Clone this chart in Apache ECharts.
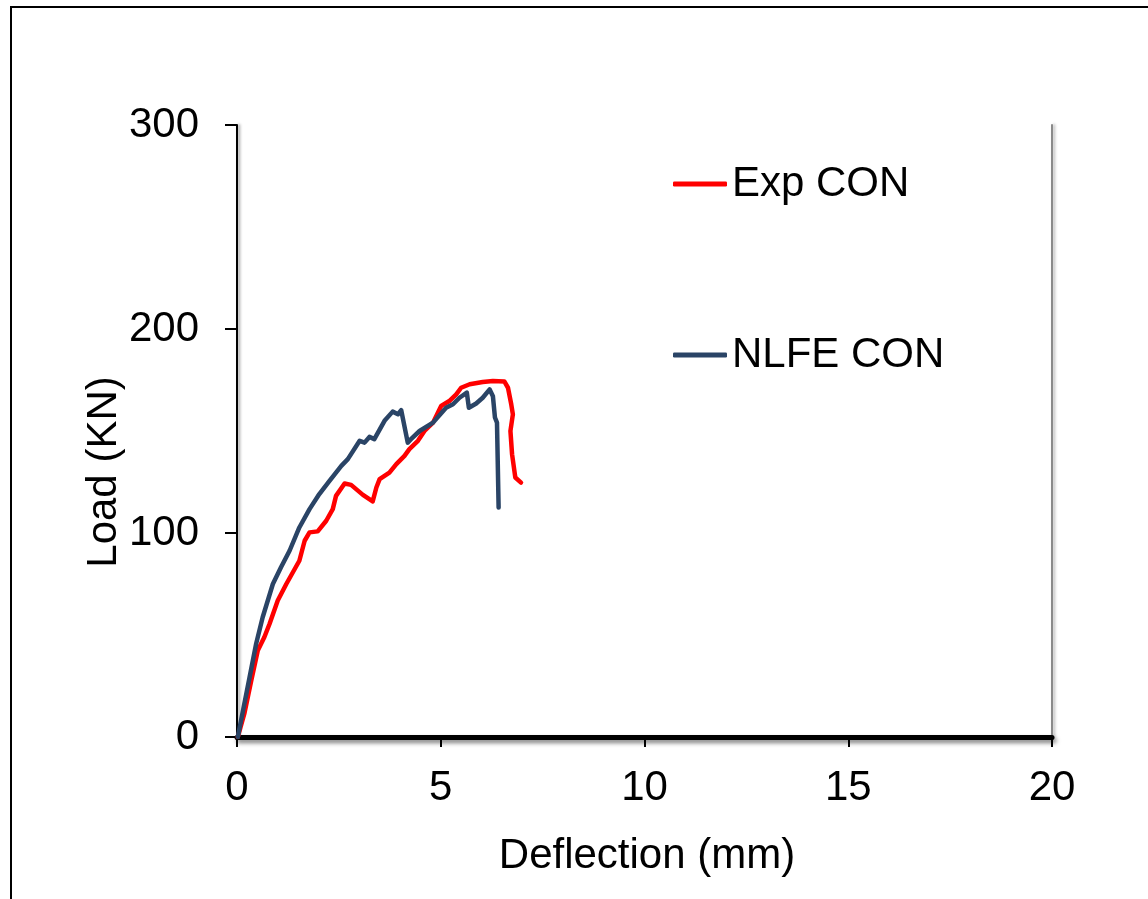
<!DOCTYPE html>
<html>
<head>
<meta charset="utf-8">
<script src="https://cdn.jsdelivr.net/npm/echarts@6/dist/echarts.min.js"></script>
<style>html,body{margin:0;padding:0;background:#fff;}#c{width:1148px;height:899px;}</style>
</head>
<body>
<div id="c"></div>
<script>
const seriesNames = ['Exp CON', 'NLFE CON'];
const xTicks = [0, 5, 10, 15, 20];
const yTicks = [0, 100, 200, 300];
const expX = [0.02, 0.18, 0.35, 0.51, 0.67, 0.80, 1.00, 1.21, 1.53, 1.66, 1.78, 1.98, 2.19, 2.35, 2.43, 2.64, 2.80, 3.09, 3.33, 3.42, 3.50, 3.74, 3.91, 4.11, 4.23, 4.44, 4.60, 4.81, 5.01, 5.21, 5.38, 5.50, 5.71, 6.03, 6.28, 6.56, 6.65, 6.73, 6.77, 6.71, 6.75, 6.83, 6.97];
const expY = [0, 11.4, 27.7, 42.4, 48.9, 55.5, 66.9, 75.0, 86.4, 96.2, 100.3, 100.8, 106.0, 111.7, 118.2, 124.3, 123.6, 118.7, 115.5, 122.3, 126.4, 129.6, 133.8, 137.8, 141.1, 145.2, 150.0, 154.1, 162.3, 164.7, 168.0, 171.2, 172.9, 174.0, 174.5, 174.3, 171.2, 163.1, 158.2, 150.0, 138.6, 127.2, 124.7];
const nlfeX = [0.02, 0.31, 0.47, 0.63, 0.88, 1.08, 1.29, 1.53, 1.78, 2.02, 2.27, 2.56, 2.72, 3.01, 3.13, 3.25, 3.37, 3.62, 3.82, 3.95, 4.03, 4.19, 4.27, 4.48, 4.81, 5.13, 5.30, 5.46, 5.64, 5.69, 5.87, 6.03, 6.20, 6.28, 6.33, 6.38, 6.42];
const nlfeY = [0, 29.4, 45.7, 58.7, 75.0, 83.2, 91.3, 102.7, 111.7, 119.1, 125.6, 132.9, 136.2, 145.2, 144.3, 147.1, 146.0, 155.0, 159.5, 158.2, 160.2, 144.3, 146.0, 150.0, 154.1, 161.4, 163.1, 166.3, 168.8, 161.4, 163.5, 166.3, 170.4, 167.0, 156.6, 154.1, 112.5];

const FONT = '"Liberation Sans", Arial, sans-serif';
const pairs = (xs, ys) => xs.map((x, i) => [x, ys[i]]);

const chart = echarts.init(document.getElementById('c'), null, {renderer: 'canvas'});
chart.setOption({
  backgroundColor: '#fff',
  animation: false,
  textStyle: {fontFamily: FONT},
  grid: {left: 237, right: 96, top: 125, bottom: 162, containLabel: false},
  xAxis: {
    type: 'value', min: xTicks[0], max: xTicks[xTicks.length - 1], interval: 5,
    axisLine: {show: true, lineStyle: {color: '#000', width: 5, shadowColor: 'rgba(0,0,0,0.5)', shadowBlur: 4, shadowOffsetX: 2, shadowOffsetY: 3}},
    axisTick: {show: true, inside: false, length: 10, lineStyle: {color: '#000', width: 2}},
    axisLabel: {color: '#000', fontSize: 42, fontFamily: FONT, margin: 30, lineHeight: 42},
    splitLine: {show: false}
  },
  yAxis: [{
    type: 'value', min: yTicks[0], max: yTicks[yTicks.length - 1], interval: 100,
    axisLine: {show: true, lineStyle: {color: '#000', width: 2, shadowColor: 'rgba(0,0,0,0.4)', shadowBlur: 3, shadowOffsetX: 2, shadowOffsetY: 0}},
    axisTick: {show: true, inside: false, length: 12, lineStyle: {color: '#000', width: 2}},
    axisLabel: {color: '#000', fontSize: 42, fontFamily: FONT, margin: 38},
    splitLine: {show: false}
  }, {
    type: 'value', position: 'right', min: yTicks[0], max: yTicks[yTicks.length - 1], interval: 100,
    axisLine: {show: true, lineStyle: {color: '#8a8a8a', width: 2, shadowColor: 'rgba(0,0,0,0.3)', shadowBlur: 3, shadowOffsetX: 2}},
    axisTick: {show: false}, axisLabel: {show: false}, splitLine: {show: false}
  }],
  legend: [{
    data: [seriesNames[0]], left: 668, top: 158, orient: 'vertical',
    icon: 'roundRect', itemWidth: 54, itemHeight: 5,
    textStyle: {color: '#000', fontSize: 42, fontFamily: FONT, lineHeight: 42}
  }, {
    data: [seriesNames[1]], left: 668, top: 329, orient: 'vertical',
    icon: 'roundRect', itemWidth: 54, itemHeight: 5,
    textStyle: {color: '#000', fontSize: 42, fontFamily: FONT, lineHeight: 42}
  }],
  series: [{
    name: seriesNames[0], type: 'line', data: pairs(expX, expY),
    showSymbol: false, smooth: false, color: '#FF0000',
    lineStyle: {color: '#FF0000', width: 4.5, cap: 'round', join: 'round'}
  }, {
    name: seriesNames[1], type: 'line', data: pairs(nlfeX, nlfeY),
    showSymbol: false, smooth: false, color: '#2A4466',
    lineStyle: {color: '#2A4466', width: 4.5, cap: 'round', join: 'round'}
  }],
  graphic: [{
    type: 'rect', shape: {x: 11, y: 7, width: 1200, height: 1000},
    style: {fill: 'none', stroke: '#000', lineWidth: 2}, silent: true
  }, {
    type: 'text', x: 647, y: 856,
    style: {text: 'Deflection (mm)', font: '42px ' + FONT, fill: '#000', textAlign: 'center', textVerticalAlign: 'middle'}
  }, {
    type: 'text', x: 104, y: 472, rotation: Math.PI / 2,
    style: {text: 'Load (KN)', font: '42px ' + FONT, fill: '#000', textAlign: 'center', textVerticalAlign: 'middle'}
  }]
});
</script>
</body>
</html>
